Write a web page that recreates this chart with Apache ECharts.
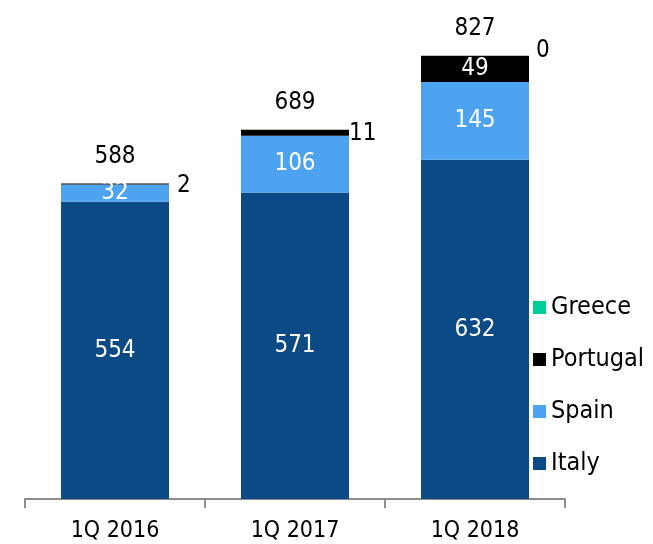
<!DOCTYPE html>
<html>
<head>
<meta charset="utf-8">
<script src="https://cdn.jsdelivr.net/npm/echarts@6/dist/echarts.min.js"></script>
<style>html,body{margin:0;padding:0;background:#fff}#c{width:653px;height:544px}</style>
</head>
<body>
<div id="c"></div>
<script>
var categories = ['1Q 2016', '1Q 2017', '1Q 2018'];
var italy = [554, 571, 632];
var spain = [32, 106, 145];
var portugal = [2, 11, 49];
var greece = [0, 0, 0];
var totals = [588, 689, 827];

var FONT = '"DejaVu Sans Condensed", "DejaVu Sans", sans-serif';
var VS = 24;
var chart = echarts.init(document.getElementById('c'));

function outsideLabel(offset) {
  return { show: true, position: 'right', distance: 0, offset: offset, color: '#000', fontSize: VS, fontFamily: FONT, formatter: '{c}' };
}

var portugalData = portugal.map(function (v, i) {
  if (i === 0) return { value: v, label: outsideLabel([8, 2]) };
  if (i === 1) return { value: v, label: outsideLabel([0, 1]) };
  return { value: v };
});
var greeceData = greece.map(function (v, i) {
  if (i === 2) return { value: v, label: outsideLabel([7, -5]) };
  return { value: v };
});

var inside = { show: true, position: 'inside', color: '#fff', fontSize: VS, fontFamily: FONT };

chart.setOption({
  animation: false,
  textStyle: { fontFamily: FONT },
  grid: { left: 25, right: 88, top: 16, bottom: 45 },
  legend: {
    orient: 'vertical',
    left: 533,
    top: 295,
    padding: 0,
    itemWidth: 13,
    itemHeight: 13,
    itemGap: 27,
    icon: 'rect',
    data: ['Greece', 'Portugal', 'Spain', 'Italy'],
    textStyle: { fontSize: 25, color: '#000', fontFamily: FONT, lineHeight: 25 }
  },
  xAxis: {
    type: 'category',
    data: categories,
    axisLine: { lineStyle: { color: '#8c8c8c', width: 2 } },
    axisTick: { show: true, length: 9, interval: 0, lineStyle: { color: '#8c8c8c', width: 2 } },
    axisLabel: { color: '#000', fontSize: 23, fontFamily: FONT, margin: 21 }
  },
  yAxis: { type: 'value', min: 0, max: 900, show: false, splitLine: { show: false } },
  series: [
    { name: 'Italy', type: 'bar', stack: 's', barWidth: '60%', data: italy, itemStyle: { color: '#0c4a86' }, label: inside },
    { name: 'Spain', type: 'bar', stack: 's', data: spain, itemStyle: { color: '#4da3f0' }, label: inside },
    { name: 'Portugal', type: 'bar', stack: 's', data: portugalData, itemStyle: { color: '#000' },
      label: { show: true, position: 'inside', color: '#fff', fontSize: VS, fontFamily: FONT,
        formatter: function (p) { return p.dataIndex === 2 ? p.value : ''; } } },
    { name: 'Greece', type: 'bar', stack: 's', data: greeceData, itemStyle: { color: '#00cc99' }, label: { show: false } },
    { name: 'Total', type: 'bar', stack: 's', data: totals.map(function () { return 0; }),
      itemStyle: { color: 'transparent' },
      label: { show: true, position: 'top', distance: 15, color: '#000', fontSize: VS, fontFamily: FONT,
        formatter: function (p) { return totals[p.dataIndex]; } } }
  ]
});
</script>
</body>
</html>
